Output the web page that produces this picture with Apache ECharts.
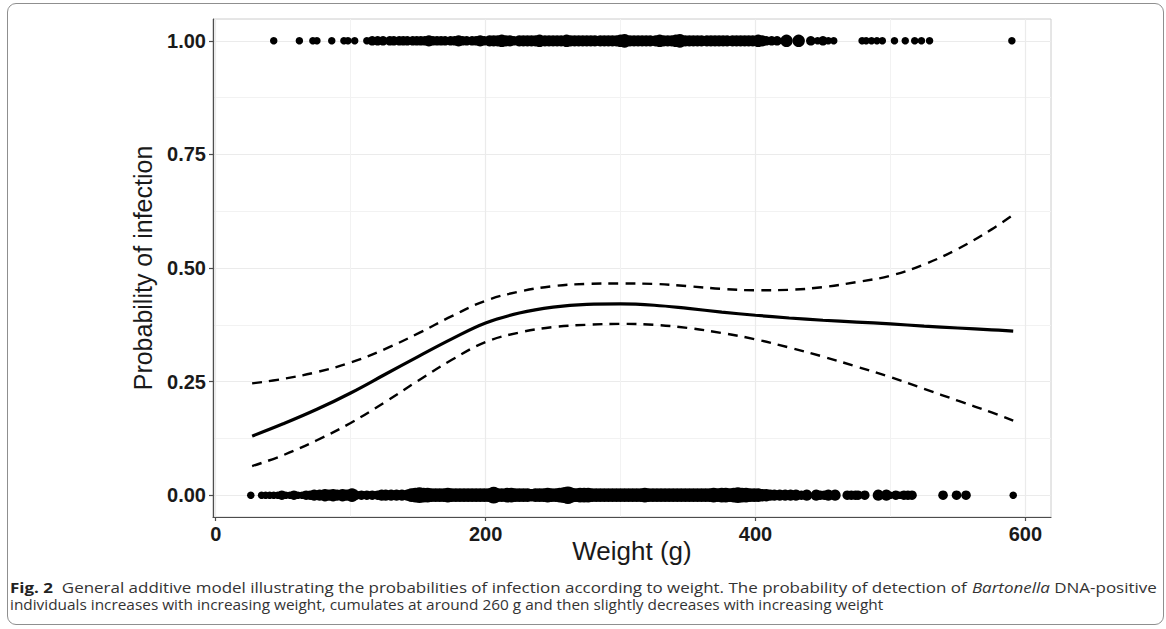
<!DOCTYPE html>
<html>
<head>
<meta charset="utf-8">
<script src="https://cdn.jsdelivr.net/npm/echarts@6/dist/echarts.min.js"></script>
<style>
  html, body { margin: 0; padding: 0; background: #ffffff; }
  #chart { width: 1166px; height: 629px; position: absolute; left: 0; top: 0; }
  #frame { position: absolute; left: 7px; top: 3px; width: 1155px; height: 620px;
           border: 1.6px solid #8f8f8f; border-radius: 9px; pointer-events: none; }
</style>
</head>
<body>
<div id="chart"></div>
<div id="frame"></div>
<script>
// ---- data ----
const xMajorTicks = [0, 200, 400, 600];
const xMinorTicks = [100, 300, 500];
const yMajorTicks = [0, 0.25, 0.5, 0.75, 1];
const yMinorTicks = [0.125, 0.375, 0.625, 0.875];
const yTickLabels = ['0.00', '0.25', '0.50', '0.75', '1.00'];

// observed infected individuals (y = 1): [weight, count]
const infected = [
  [43,1],[62,1],[72,1],[75,1],[86,1],[95,1],[98,1],[103,1],[112,1],[116,2],[120,2],[124,2],
  [129,2],[132,2],[136,2],[139,2],[142,2],[146,2],[149,2],[152,2],[155,2],[158,3],[161,2],[164,2],
  [167,2],[170,2],[174,2],[177,2],[180,3],[183,2],[186,2],[190,2],[193,2],[196,3],[199,2],[203,3],
  [206,3],[209,3],[212,4],[215,3],[218,3],[221,2],[225,3],[228,3],[231,3],[234,3],[237,3],[240,4],
  [244,3],[247,3],[250,3],[253,3],[256,3],[260,4],[263,3],[266,3],[269,3],[272,3],[275,3],[278,3],
  [281,3],[285,3],[288,3],[291,3],[294,3],[297,3],[300,4],[303,5],[307,3],[310,3],[313,3],[316,3],
  [319,3],[322,3],[326,3],[329,4],[332,3],[335,3],[338,3],[341,4],[344,5],[348,3],[351,3],[354,3],
  [357,3],[360,3],[364,3],[367,3],[370,3],[373,3],[376,3],[379,3],[383,3],[386,3],[389,3],[392,3],
  [395,3],[398,3],[402,4],[405,3],[408,2],[412,2],[416,2],[423,4],[432,4],[441,2],[446,1],[450,2],
  [454,1],[458,1],[479,1],[482,1],[486,1],[490,1],[494,1],[503,1],[511,1],[518,1],[523,1],[529,1],
  [590,1]
];

// observed uninfected individuals (y = 0): [weight, count]
const uninfected = [
  [26,1],[34,1],[37,1],[40,1],[43,1],[46,1],[49,2],[52,1],[55,1],[58,2],[61,1],[64,1],[67,2],[70,2],
  [73,3],[77,3],[81,4],[84,3],[87,4],[90,3],[94,4],[97,3],[101,5],[104,2],[108,2],[112,2],[116,2],
  [120,2],[123,3],[126,3],[130,3],[134,3],[138,3],[142,3],[145,5],[148,6],[151,7],[154,6],[157,6],
  [160,5],[163,5],[166,5],[169,5],[172,6],[175,5],[178,5],[181,5],[184,5],[187,5],[190,5],[193,5],
  [196,5],[199,5],[202,5],[206,8],[209,5],[212,5],[216,6],[219,6],[222,5],[225,5],[228,5],[231,5],
  [234,4],[237,5],[240,5],[243,5],[246,6],[249,5],[252,5],[255,6],[258,7],[261,9],[264,6],[267,5],
  [270,6],[273,6],[276,6],[279,5],[282,5],[285,5],[288,5],[291,5],[294,5],[297,5],[300,5],[303,5],
  [306,5],[309,5],[312,5],[315,5],[318,6],[321,5],[324,5],[327,5],[330,5],[333,5],[336,5],[339,5],
  [342,5],[345,5],[348,5],[351,5],[354,5],[357,5],[360,5],[363,5],[366,5],[369,6],[372,5],[375,6],
  [378,6],[381,5],[384,6],[387,7],[390,6],[393,6],[396,5],[399,5],[402,5],[405,4],[408,4],[411,3],
  [414,3],[418,3],[422,3],[426,3],[430,3],[434,2],[438,3],[445,3],[448,2],[451,2],[454,3],[459,3],
  [468,2],[471,2],[474,2],[476,2],[481,2],[491,3],[497,3],[500,1],[504,2],[507,1],[510,2],[513,2],
  [516,2],[539,2],[549,2],[556,2],[591,1]
];

// GAM fit and confidence band
const fitWeights = [27,50,75,100,125,150,175,200,225,250,275,300,325,350,375,400,425,450,475,500,525,550,575,591];
const fitProb    = [0.130,0.157,0.189,0.225,0.265,0.305,0.344,0.379,0.401,0.414,0.420,0.421,0.418,0.411,0.403,0.396,0.390,0.385,0.381,0.377,0.372,0.368,0.364,0.361];
const upperProb  = [0.246,0.256,0.271,0.292,0.321,0.356,0.394,0.428,0.448,0.460,0.465,0.466,0.465,0.460,0.454,0.451,0.452,0.458,0.469,0.483,0.508,0.542,0.585,0.617];
const lowerProb  = [0.064,0.088,0.121,0.159,0.204,0.252,0.298,0.337,0.358,0.370,0.375,0.377,0.375,0.368,0.357,0.343,0.325,0.305,0.283,0.260,0.234,0.208,0.182,0.164];

const xTitle = 'Weight (g)';
const yTitle = 'Probability of infection';
const captionLine1 = '{b|Fig. 2}  {t|General additive model illustrating the probabilities of infection according to weight. The probability of detection of }{i|Bartonella}{t| DNA-positive}';
const captionLine2 = 'individuals increases with increasing weight, cumulates at around 260 g and then slightly decreases with increasing weight';

// ---- chart ----
const chart = echarts.init(document.getElementById('chart'), null, { renderer: 'svg' });
const dotSize = (n) => 2.5 + 5 * Math.sqrt(n);
const zip = (xs, ys) => xs.map((x, i) => [x, ys[i]]);
const axisFont = 'Liberation Sans, Arial, sans-serif';
const capFont = 'Open Sans, sans-serif';
const capSize = 14.5;

const option = {
  backgroundColor: '#ffffff',
  animation: false,
  grid: { left: 213, right: 115, top: 19, bottom: 112, show: true, borderColor: '#cccccc', borderWidth: 1 },
  xAxis: [
    {
      type: 'value', min: -2, max: 619, position: 'bottom',
      name: xTitle, nameLocation: 'middle', nameGap: 21, nameMoveOverlap: false,
      nameTextStyle: { fontSize: 26, color: '#1a1a1a', fontFamily: axisFont },
      axisLine: { show: true, onZero: false, lineStyle: { color: '#4d4d4d', width: 1.2 } },
      axisTick: { show: true, length: 4, lineStyle: { color: '#4d4d4d', width: 1.2 }, customValues: xMajorTicks },
      axisLabel: { customValues: xMajorTicks, fontSize: 20, fontWeight: 'bold', color: '#1a1a1a', margin: 7, fontFamily: axisFont },
      splitLine: { show: true, lineStyle: { color: '#ebebeb', width: 1.2 } }
    },
    {
      type: 'value', min: -2, max: 619, position: 'bottom',
      axisLine: { show: false }, axisLabel: { show: false },
      axisTick: { show: false, customValues: xMinorTicks },
      splitLine: { show: true, lineStyle: { color: '#f2f2f2', width: 1 } }
    }
  ],
  yAxis: [
    {
      type: 'value', min: -0.048, max: 1.048, position: 'left',
      name: yTitle, nameLocation: 'middle', nameGap: 58, nameMoveOverlap: false,
      nameTextStyle: { fontSize: 25, color: '#1a1a1a', fontFamily: axisFont },
      axisLine: { show: true, onZero: false, lineStyle: { color: '#4d4d4d', width: 1.2 } },
      axisTick: { show: true, length: 4, lineStyle: { color: '#4d4d4d', width: 1.2 }, customValues: yMajorTicks },
      axisLabel: {
        customValues: yMajorTicks, fontSize: 20, fontWeight: 'bold', color: '#1a1a1a', margin: 7, fontFamily: axisFont,
        formatter: (v) => yTickLabels[yMajorTicks.indexOf(v)] ?? v.toFixed(2)
      },
      splitLine: { show: true, lineStyle: { color: '#ebebeb', width: 1.2 } }
    },
    {
      type: 'value', min: -0.048, max: 1.048, position: 'left',
      axisLine: { show: false }, axisLabel: { show: false },
      axisTick: { show: false, customValues: yMinorTicks },
      splitLine: { show: true, lineStyle: { color: '#f2f2f2', width: 1 } }
    }
  ],
  series: [
    {
      type: 'scatter', xAxisIndex: 0, yAxisIndex: 0,
      data: infected.map(d => [d[0], 1, d[1]]),
      symbolSize: (d) => dotSize(d[2]),
      itemStyle: { color: '#000000', opacity: 1 }
    },
    {
      type: 'scatter', xAxisIndex: 0, yAxisIndex: 0,
      data: uninfected.map(d => [d[0], 0, d[1]]),
      symbolSize: (d) => dotSize(d[2]),
      itemStyle: { color: '#000000', opacity: 1 }
    },
    {
      type: 'line', xAxisIndex: 0, yAxisIndex: 0, data: zip(fitWeights, upperProb),
      showSymbol: false, smooth: 0.4,
      lineStyle: { color: '#000000', width: 2.4, type: [10, 7] }
    },
    {
      type: 'line', xAxisIndex: 0, yAxisIndex: 0, data: zip(fitWeights, lowerProb),
      showSymbol: false, smooth: 0.4,
      lineStyle: { color: '#000000', width: 2.4, type: [10, 7] }
    },
    {
      type: 'line', xAxisIndex: 0, yAxisIndex: 0, data: zip(fitWeights, fitProb),
      showSymbol: false, smooth: 0.4,
      lineStyle: { color: '#000000', width: 3.2 }
    }
  ],
  graphic: [
    {
      type: 'text', x: 10, y: 587, scaleX: 1.17,
      style: {
        text: captionLine1, fill: '#333333', fontSize: capSize, fontFamily: capFont, verticalAlign: 'middle',
        rich: {
          b: { fontWeight: 'bold', fontSize: capSize, fontFamily: capFont, fill: '#222222' },
          t: { fontSize: capSize, fontFamily: capFont, fill: '#333333' },
          i: { fontStyle: 'italic', fontSize: capSize, fontFamily: capFont, fill: '#333333' }
        }
      }
    },
    {
      type: 'text', x: 10, y: 604, scaleX: 1.062,
      style: { text: captionLine2, fill: '#333333', fontSize: capSize, fontFamily: capFont, verticalAlign: 'middle' }
    }
  ]
};
chart.setOption(option);
</script>
</body>
</html>
